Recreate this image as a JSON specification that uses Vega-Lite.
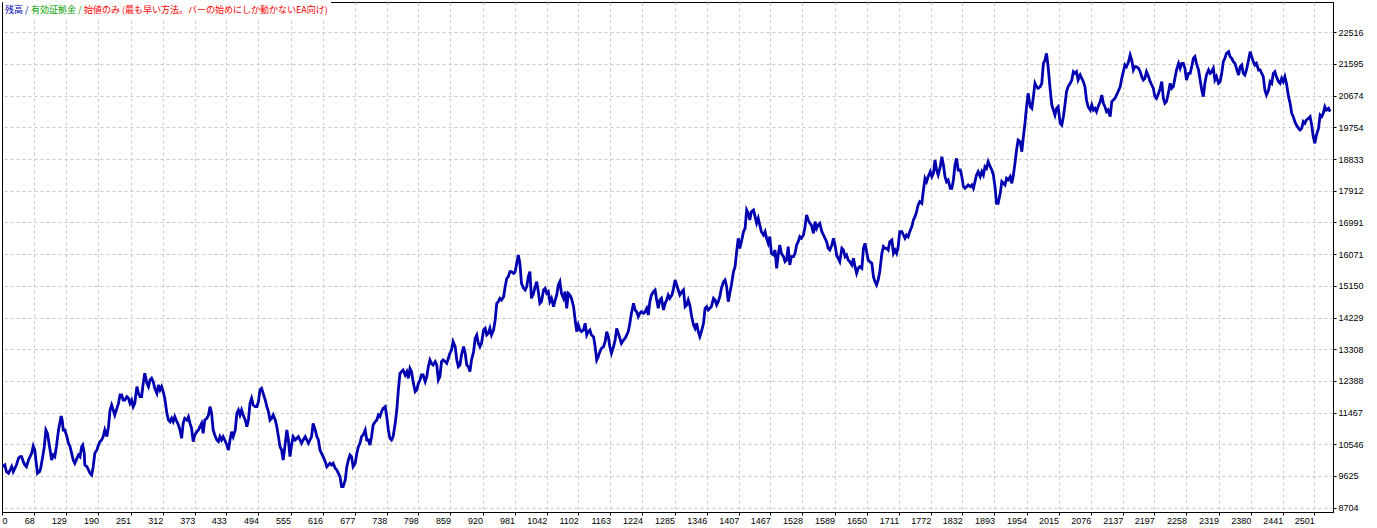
{
  "$schema": "https://vega.github.io/schema/vega-lite/v6.json",
  "width": 1331,
  "height": 510,
  "autosize": {"type": "none"},
  "padding": {"left": 2, "top": 2, "right": 44, "bottom": 16},
  "background": "#ffffff",
  "config": {
    "view": {"stroke": "#000000", "strokeWidth": 1},
    "axis": {
      "grid": true, "gridColor": "#c8c8c8", "gridDash": [3, 3], "gridWidth": 1,
      "domain": true, "domainColor": "#000000", "tickColor": "#000000", "tickSize": 3,
      "labelFont": "Liberation Sans", "labelFontSize": 9, "labelColor": "#000000",
      "labelOverlap": false, "labelFlush": false, "labelBound": false
    }
  },
  "data": {"values": [
{"t":8,"b":9896},{"t":12,"b":9945},{"t":15,"b":9751},{"t":19,"b":9703},{"t":22,"b":9799},{"t":25,"b":9896},{"t":28,"b":9751},{"t":31,"b":9848},{"t":34,"b":9945},{"t":38,"b":10139},{"t":41,"b":10187},{"t":44,"b":10187},{"t":47,"b":10042},{"t":50,"b":9945},{"t":53,"b":9896},{"t":57,"b":10090},{"t":60,"b":10187},{"t":63,"b":10284},{"t":66,"b":10497},{"t":69,"b":10380},{"t":71,"b":10090},{"t":74,"b":9703},{"t":78,"b":9751},{"t":80,"b":9848},{"t":84,"b":10187},{"t":87,"b":10477},{"t":90,"b":10962},{"t":93,"b":10865},{"t":95,"b":10671},{"t":98,"b":10380},{"t":101,"b":10090},{"t":104,"b":10235},{"t":107,"b":10187},{"t":110,"b":10477},{"t":114,"b":10962},{"t":117,"b":11203},{"t":119,"b":11368},{"t":121,"b":11252},{"t":123,"b":10962},{"t":126,"b":10962},{"t":130,"b":10768},{"t":133,"b":10574},{"t":136,"b":10477},{"t":139,"b":10284},{"t":142,"b":10090},{"t":145,"b":9993},{"t":149,"b":10138},{"t":152,"b":10235},{"t":155,"b":10187},{"t":158,"b":10477},{"t":160,"b":10526},{"t":163,"b":10284},{"t":164,"b":9945},{"t":168,"b":9896},{"t":171,"b":9799},{"t":174,"b":9703},{"t":177,"b":9654},{"t":180,"b":9896},{"t":183,"b":10284},{"t":187,"b":10380},{"t":190,"b":10526},{"t":193,"b":10623},{"t":196,"b":10671},{"t":199,"b":10768},{"t":202,"b":10962},{"t":206,"b":10768},{"t":209,"b":11058},{"t":212,"b":11542},{"t":215,"b":11688},{"t":218,"b":11542},{"t":221,"b":11397},{"t":225,"b":11591},{"t":228,"b":11736},{"t":231,"b":11978},{"t":234,"b":11978},{"t":237,"b":11833},{"t":240,"b":11833},{"t":244,"b":11930},{"t":247,"b":11881},{"t":250,"b":11736},{"t":253,"b":11833},{"t":256,"b":11639},{"t":259,"b":11736},{"t":263,"b":12220},{"t":266,"b":12027},{"t":269,"b":11930},{"t":272,"b":11930},{"t":275,"b":12317},{"t":278,"b":12608},{"t":282,"b":12317},{"t":285,"b":12220},{"t":288,"b":12414},{"t":291,"b":12463},{"t":294,"b":12366},{"t":297,"b":12172},{"t":301,"b":12027},{"t":304,"b":12269},{"t":307,"b":12124},{"t":310,"b":12220},{"t":313,"b":12075},{"t":316,"b":11881},{"t":320,"b":11446},{"t":323,"b":11252},{"t":326,"b":11203},{"t":329,"b":11300},{"t":332,"b":11203},{"t":335,"b":11349},{"t":339,"b":11203},{"t":342,"b":11107},{"t":345,"b":10962},{"t":348,"b":10719},{"t":351,"b":11155},{"t":354,"b":11300},{"t":358,"b":11252},{"t":361,"b":11349},{"t":364,"b":11155},{"t":367,"b":11010},{"t":370,"b":10623},{"t":373,"b":10816},{"t":377,"b":10913},{"t":380,"b":10962},{"t":383,"b":11058},{"t":386,"b":11155},{"t":389,"b":10865},{"t":392,"b":11252},{"t":396,"b":11300},{"t":399,"b":11397},{"t":402,"b":11639},{"t":405,"b":11446},{"t":408,"b":10962},{"t":411,"b":10816},{"t":415,"b":10671},{"t":418,"b":10623},{"t":421,"b":10768},{"t":424,"b":10671},{"t":427,"b":10768},{"t":430,"b":10671},{"t":434,"b":10526},{"t":437,"b":10380},{"t":440,"b":10671},{"t":443,"b":10913},{"t":446,"b":10768},{"t":450,"b":10962},{"t":453,"b":11446},{"t":456,"b":11542},{"t":459,"b":11397},{"t":462,"b":11542},{"t":465,"b":11397},{"t":469,"b":11252},{"t":472,"b":11058},{"t":475,"b":11252},{"t":478,"b":11736},{"t":481,"b":11881},{"t":484,"b":11688},{"t":488,"b":11639},{"t":491,"b":11639},{"t":494,"b":11785},{"t":497,"b":12124},{"t":500,"b":12172},{"t":503,"b":12027},{"t":507,"b":11833},{"t":510,"b":11639},{"t":513,"b":11494},{"t":516,"b":11252},{"t":519,"b":11300},{"t":522,"b":11397},{"t":526,"b":11252},{"t":529,"b":11058},{"t":532,"b":10768},{"t":535,"b":10477},{"t":538,"b":10380},{"t":541,"b":10090},{"t":545,"b":10574},{"t":548,"b":10962},{"t":551,"b":10671},{"t":554,"b":10187},{"t":557,"b":10526},{"t":560,"b":10768},{"t":564,"b":10671},{"t":567,"b":10719},{"t":570,"b":10768},{"t":573,"b":10671},{"t":576,"b":10574},{"t":579,"b":10671},{"t":583,"b":10768},{"t":586,"b":10671},{"t":589,"b":10574},{"t":592,"b":10671},{"t":595,"b":10768},{"t":598,"b":11155},{"t":602,"b":10962},{"t":605,"b":10768},{"t":608,"b":10671},{"t":611,"b":10380},{"t":614,"b":10284},{"t":617,"b":10187},{"t":621,"b":10042},{"t":624,"b":9896},{"t":627,"b":9945},{"t":630,"b":9993},{"t":633,"b":9945},{"t":636,"b":9993},{"t":640,"b":9848},{"t":643,"b":9799},{"t":646,"b":9703},{"t":649,"b":9606},{"t":652,"b":9315},{"t":655,"b":9315},{"t":659,"b":9509},{"t":662,"b":9896},{"t":665,"b":10090},{"t":668,"b":10235},{"t":671,"b":10187},{"t":674,"b":9896},{"t":678,"b":9993},{"t":681,"b":10284},{"t":684,"b":10477},{"t":687,"b":10574},{"t":690,"b":10768},{"t":693,"b":10816},{"t":697,"b":10962},{"t":700,"b":10671},{"t":703,"b":10671},{"t":706,"b":10526},{"t":709,"b":10768},{"t":712,"b":11107},{"t":716,"b":11203},{"t":719,"b":11252},{"t":722,"b":11397},{"t":725,"b":11349},{"t":728,"b":11494},{"t":731,"b":11591},{"t":735,"b":11639},{"t":738,"b":11349},{"t":741,"b":10962},{"t":744,"b":10719},{"t":747,"b":10671},{"t":750,"b":10768},{"t":754,"b":11155},{"t":757,"b":11542},{"t":760,"b":12124},{"t":763,"b":12608},{"t":766,"b":12656},{"t":769,"b":12705},{"t":773,"b":12559},{"t":776,"b":12656},{"t":779,"b":12462},{"t":782,"b":12753},{"t":785,"b":12656},{"t":788,"b":12366},{"t":792,"b":12075},{"t":795,"b":12124},{"t":798,"b":12317},{"t":801,"b":12414},{"t":804,"b":12559},{"t":807,"b":12559},{"t":811,"b":12366},{"t":814,"b":12511},{"t":817,"b":12801},{"t":820,"b":12995},{"t":823,"b":12898},{"t":826,"b":12850},{"t":830,"b":12947},{"t":833,"b":12850},{"t":836,"b":12414},{"t":839,"b":12511},{"t":842,"b":12947},{"t":845,"b":12995},{"t":849,"b":12947},{"t":852,"b":12898},{"t":855,"b":13043},{"t":858,"b":13189},{"t":861,"b":13286},{"t":864,"b":13528},{"t":868,"b":13382},{"t":871,"b":12995},{"t":874,"b":12801},
{"t":877,"b":12850},{"t":880,"b":13141},{"t":884,"b":13383},{"t":887,"b":13189},{"t":890,"b":12850},{"t":893,"b":12802},{"t":896,"b":12656},{"t":899,"b":12995},{"t":903,"b":13237},{"t":906,"b":13625},{"t":909,"b":13722},{"t":912,"b":13479},{"t":915,"b":13383},{"t":918,"b":13479},{"t":922,"b":13869},{"t":925,"b":13915},{"t":928,"b":13722},{"t":931,"b":13770},{"t":934,"b":13915},{"t":937,"b":13722},{"t":941,"b":13869},{"t":944,"b":14157},{"t":947,"b":14642},{"t":950,"b":14690},{"t":953,"b":14784},{"t":956,"b":14738},{"t":960,"b":14835},{"t":963,"b":15126},{"t":966,"b":15368},{"t":969,"b":15416},{"t":972,"b":15562},{"t":975,"b":15562},{"t":979,"b":15513},{"t":982,"b":15562},{"t":985,"b":15804},{"t":988,"b":16046},{"t":991,"b":15804},{"t":994,"b":15223},{"t":998,"b":15077},{"t":1001,"b":15029},{"t":1004,"b":15126},{"t":1007,"b":15416},{"t":1010,"b":15562},{"t":1013,"b":14787},{"t":1017,"b":14932},{"t":1020,"b":15126},{"t":1023,"b":15271},{"t":1026,"b":14981},{"t":1029,"b":14642},{"t":1032,"b":14690},{"t":1036,"b":15029},{"t":1039,"b":15077},{"t":1042,"b":14932},{"t":1045,"b":14980},{"t":1048,"b":14690},{"t":1051,"b":14787},{"t":1055,"b":14545},{"t":1058,"b":14738},{"t":1061,"b":14884},{"t":1064,"b":15174},{"t":1067,"b":15271},{"t":1070,"b":14932},{"t":1074,"b":14787},{"t":1077,"b":14980},{"t":1080,"b":14496},{"t":1083,"b":14932},{"t":1086,"b":14884},{"t":1089,"b":14787},{"t":1093,"b":14545},{"t":1096,"b":14157},{"t":1099,"b":13818},{"t":1102,"b":14012},{"t":1105,"b":13869},{"t":1108,"b":13818},{"t":1112,"b":13869},{"t":1115,"b":14061},{"t":1118,"b":13722},{"t":1121,"b":13818},{"t":1124,"b":13869},{"t":1127,"b":13722},{"t":1131,"b":13673},{"t":1134,"b":13383},{"t":1137,"b":12995},{"t":1140,"b":13092},{"t":1143,"b":13237},{"t":1146,"b":13334},{"t":1150,"b":13383},{"t":1153,"b":13528},{"t":1156,"b":13818},{"t":1159,"b":13673},{"t":1162,"b":13383},{"t":1165,"b":13189},{"t":1169,"b":13383},{"t":1172,"b":13576},{"t":1175,"b":13915},{"t":1178,"b":13770},{"t":1181,"b":13625},{"t":1184,"b":13479},{"t":1188,"b":13576},{"t":1191,"b":13625},{"t":1194,"b":13722},{"t":1197,"b":13818},{"t":1200,"b":14061},{"t":1203,"b":14351},{"t":1207,"b":14642},{"t":1210,"b":14448},{"t":1213,"b":14399},{"t":1216,"b":14254},{"t":1219,"b":14351},{"t":1222,"b":14399},{"t":1226,"b":14351},{"t":1229,"b":14399},{"t":1232,"b":14496},{"t":1235,"b":14303},{"t":1238,"b":14690},{"t":1241,"b":14884},{"t":1245,"b":14980},{"t":1248,"b":15029},{"t":1251,"b":14738},{"t":1254,"b":14496},{"t":1257,"b":14738},{"t":1260,"b":14787},{"t":1264,"b":14448},{"t":1267,"b":14642},{"t":1270,"b":14738},{"t":1273,"b":14884},{"t":1276,"b":14787},{"t":1280,"b":14884},{"t":1283,"b":15077},{"t":1286,"b":15319},{"t":1289,"b":15174},{"t":1292,"b":15029},{"t":1295,"b":14884},{"t":1299,"b":14980},{"t":1302,"b":15029},{"t":1305,"b":14545},{"t":1308,"b":14593},{"t":1311,"b":14738},
{"t":1314,"b":14593},{"t":1317,"b":14303},{"t":1321,"b":14012},{"t":1324,"b":13915},{"t":1327,"b":14061},{"t":1330,"b":13819},{"t":1333,"b":13673},{"t":1336,"b":13819},{"t":1340,"b":14061},{"t":1343,"b":14496},{"t":1346,"b":14545},{"t":1349,"b":14448},{"t":1352,"b":14496},{"t":1355,"b":14545},{"t":1359,"b":14787},{"t":1362,"b":14738},{"t":1365,"b":14593},{"t":1368,"b":14690},{"t":1371,"b":14835},{"t":1374,"b":15077},{"t":1378,"b":15271},{"t":1381,"b":15320},{"t":1384,"b":15126},{"t":1387,"b":14690},{"t":1390,"b":14932},{"t":1393,"b":15174},{"t":1397,"b":15562},{"t":1400,"b":15707},{"t":1403,"b":16143},{"t":1406,"b":16530},{"t":1409,"b":16240},{"t":1412,"b":16433},{"t":1416,"b":16724},{"t":1419,"b":16821},{"t":1422,"b":17353},{"t":1425,"b":17256},{"t":1428,"b":17063},{"t":1431,"b":17305},{"t":1435,"b":17353},{"t":1438,"b":17159},{"t":1441,"b":16966},{"t":1444,"b":17111},{"t":1447,"b":16917},{"t":1450,"b":16724},{"t":1454,"b":16627},{"t":1457,"b":16724},{"t":1460,"b":16530},{"t":1463,"b":16385},{"t":1466,"b":16578},{"t":1469,"b":16094},{"t":1473,"b":16046},{"t":1476,"b":16191},{"t":1479,"b":15658},{"t":1482,"b":16046},{"t":1485,"b":16336},{"t":1488,"b":16094},{"t":1492,"b":15998},{"t":1495,"b":15852},{"t":1498,"b":15901},{"t":1501,"b":16288},{"t":1504,"b":15755},{"t":1507,"b":15998},{"t":1511,"b":15998},{"t":1514,"b":16094},{"t":1517,"b":16336},{"t":1520,"b":16433},{"t":1523,"b":16578},{"t":1526,"b":16530},{"t":1530,"b":16627},{"t":1533,"b":16869},{"t":1536,"b":17208},{"t":1539,"b":17063},{"t":1542,"b":16966},{"t":1545,"b":16917},{"t":1549,"b":16675},{"t":1552,"b":17014},{"t":1555,"b":16821},{"t":1558,"b":16917},{"t":1561,"b":16966},{"t":1565,"b":16724},{"t":1568,"b":16627},{"t":1571,"b":16530},{"t":1574,"b":16433},{"t":1577,"b":16240},{"t":1580,"b":16191},{"t":1584,"b":16336},{"t":1587,"b":16530},{"t":1590,"b":16336},{"t":1593,"b":16046},{"t":1596,"b":15949},{"t":1599,"b":15852},{"t":1603,"b":16240},{"t":1606,"b":16191},{"t":1609,"b":15998},{"t":1612,"b":16046},{"t":1615,"b":15901},{"t":1618,"b":15852},{"t":1622,"b":15755},{"t":1625,"b":15949},{"t":1628,"b":15707},{"t":1631,"b":15513},{"t":1634,"b":15658},{"t":1637,"b":15707},{"t":1641,"b":15658},{"t":1644,"b":16240},{"t":1647,"b":16385},{"t":1650,"b":16143},{"t":1653,"b":15901},{"t":1656,"b":15852},{"t":1660,"b":15804},{"t":1663,"b":15417},{"t":1666,"b":15271},{"t":1669,"b":15174},{"t":1672,"b":15319},{"t":1675,"b":15562},{"t":1679,"b":16094},{"t":1682,"b":16288},{"t":1685,"b":16240},{"t":1688,"b":16240},{"t":1691,"b":16191},{"t":1694,"b":16433},{"t":1698,"b":16481},{"t":1701,"b":16094},{"t":1704,"b":16191},{"t":1707,"b":16094},{"t":1710,"b":16288},{"t":1713,"b":16724},{"t":1717,"b":16724},{"t":1720,"b":16627},{"t":1723,"b":16530},{"t":1726,"b":16627},{"t":1729,"b":16578},{"t":1732,"b":16724},{"t":1736,"b":16869},{"t":1739,"b":17063},{"t":1742,"b":17159},{"t":1745,"b":17305},{"t":1748,"b":17498},
{"t":1751,"b":17595},{"t":1755,"b":17547},{"t":1758,"b":17934},{"t":1761,"b":18273},{"t":1764,"b":18176},{"t":1767,"b":18322},{"t":1771,"b":18467},{"t":1774,"b":18322},{"t":1777,"b":18418},{"t":1780,"b":18806},{"t":1783,"b":18515},{"t":1786,"b":18370},{"t":1790,"b":18612},{"t":1793,"b":18903},{"t":1796,"b":18661},{"t":1799,"b":18322},{"t":1802,"b":18176},{"t":1805,"b":18225},{"t":1809,"b":17983},{"t":1812,"b":17983},{"t":1815,"b":18225},{"t":1818,"b":18661},{"t":1821,"b":18854},{"t":1824,"b":18515},{"t":1828,"b":18515},{"t":1831,"b":18322},{"t":1834,"b":18031},{"t":1837,"b":17983},{"t":1840,"b":18031},{"t":1843,"b":18080},{"t":1847,"b":18031},{"t":1850,"b":18080},{"t":1853,"b":17983},{"t":1856,"b":18176},{"t":1859,"b":18370},{"t":1862,"b":18467},{"t":1866,"b":18322},{"t":1869,"b":18467},{"t":1872,"b":18370},{"t":1875,"b":18612},{"t":1878,"b":18564},{"t":1881,"b":18757},{"t":1885,"b":18612},{"t":1888,"b":18515},{"t":1891,"b":18370},{"t":1894,"b":18031},{"t":1897,"b":17547},{"t":1900,"b":17547},{"t":1904,"b":17837},{"t":1907,"b":18176},{"t":1910,"b":18128},{"t":1913,"b":18080},{"t":1916,"b":18273},{"t":1919,"b":18225},{"t":1923,"b":18322},{"t":1926,"b":18128},{"t":1929,"b":18370},{"t":1932,"b":18709},{"t":1935,"b":19096},{"t":1938,"b":19387},{"t":1942,"b":19338},{"t":1945,"b":19048},{"t":1948,"b":19484},{"t":1951,"b":19871},{"t":1954,"b":20355},{"t":1957,"b":20743},{"t":1961,"b":20355},{"t":1964,"b":20307},{"t":1967,"b":20646},{"t":1970,"b":21033},{"t":1973,"b":20936},{"t":1976,"b":20888},{"t":1980,"b":20936},{"t":1983,"b":21033},{"t":1986,"b":21614},{"t":1989,"b":21711},{"t":1992,"b":21905},{"t":1995,"b":21517},{"t":1999,"b":20840},{"t":2002,"b":20404},{"t":2005,"b":20259},{"t":2008,"b":20113},{"t":2011,"b":20307},{"t":2014,"b":20355},{"t":2018,"b":19871},{"t":2021,"b":19823},{"t":2024,"b":20065},{"t":2027,"b":20404},{"t":2030,"b":20791},{"t":2033,"b":20936},{"t":2037,"b":21033},{"t":2040,"b":21130},{"t":2043,"b":21372},{"t":2046,"b":21324},{"t":2049,"b":21372},{"t":2052,"b":21130},{"t":2056,"b":21275},{"t":2059,"b":21178},{"t":2062,"b":21082},{"t":2065,"b":20936},{"t":2068,"b":20549},{"t":2071,"b":20355},{"t":2075,"b":20259},{"t":2078,"b":20404},{"t":2081,"b":20259},{"t":2084,"b":20307},{"t":2087,"b":20210},{"t":2090,"b":20355},{"t":2094,"b":20501},{"t":2097,"b":20694},{"t":2100,"b":20452},{"t":2103,"b":20355},{"t":2106,"b":20210},{"t":2109,"b":20259},{"t":2113,"b":20065},{"t":2116,"b":20501},{"t":2119,"b":20549},{"t":2122,"b":20597},{"t":2125,"b":20694},{"t":2128,"b":20791},{"t":2132,"b":20936},{"t":2135,"b":21178},{"t":2138,"b":21372},{"t":2141,"b":21566},{"t":2144,"b":21517},{"t":2148,"b":21663},{"t":2151,"b":21856},{"t":2154,"b":21711},{"t":2157,"b":21420},{"t":2160,"b":21517},{"t":2163,"b":21517},{"t":2167,"b":21469},
{"t":2170,"b":21372},{"t":2173,"b":21227},{"t":2176,"b":21130},{"t":2179,"b":21178},{"t":2182,"b":21372},{"t":2186,"b":21227},{"t":2189,"b":21082},{"t":2192,"b":20985},{"t":2195,"b":20888},{"t":2198,"b":20646},{"t":2201,"b":20597},{"t":2205,"b":20743},{"t":2208,"b":20888},{"t":2211,"b":21082},{"t":2214,"b":20597},{"t":2217,"b":20452},{"t":2220,"b":20501},{"t":2224,"b":20791},{"t":2227,"b":21033},{"t":2230,"b":20888},{"t":2233,"b":20936},{"t":2236,"b":21178},{"t":2239,"b":21420},{"t":2243,"b":21614},{"t":2246,"b":21469},{"t":2249,"b":21614},{"t":2252,"b":21614},{"t":2255,"b":21469},{"t":2258,"b":21130},{"t":2262,"b":21324},{"t":2265,"b":21324},{"t":2268,"b":21517},{"t":2271,"b":21760},{"t":2274,"b":21808},{"t":2277,"b":21614},{"t":2281,"b":21420},{"t":2284,"b":21130},{"t":2287,"b":20839},{"t":2290,"b":20646},{"t":2293,"b":21033},{"t":2296,"b":21275},{"t":2300,"b":21420},{"t":2303,"b":21324},{"t":2306,"b":21372},{"t":2309,"b":21469},{"t":2312,"b":21130},{"t":2315,"b":21227},{"t":2319,"b":21033},{"t":2322,"b":21082},{"t":2325,"b":21324},{"t":2328,"b":21663},{"t":2331,"b":21760},{"t":2334,"b":21905},{"t":2338,"b":21953},{"t":2341,"b":21808},{"t":2344,"b":21760},{"t":2347,"b":21663},{"t":2350,"b":21614},{"t":2353,"b":21469},{"t":2357,"b":21275},{"t":2360,"b":21517},{"t":2363,"b":21566},{"t":2366,"b":21324},{"t":2369,"b":21275},{"t":2372,"b":21420},{"t":2376,"b":21711},{"t":2379,"b":21953},{"t":2382,"b":21808},{"t":2385,"b":21663},{"t":2388,"b":21566},{"t":2391,"b":21614},{"t":2395,"b":21420},{"t":2398,"b":21420},{"t":2401,"b":21324},{"t":2404,"b":21227},{"t":2407,"b":20839},{"t":2410,"b":20694},{"t":2414,"b":20839},{"t":2417,"b":21082},{"t":2420,"b":21033},{"t":2423,"b":21324},{"t":2426,"b":21372},{"t":2429,"b":21227},{"t":2433,"b":21082},{"t":2436,"b":21033},{"t":2439,"b":21178},{"t":2442,"b":21082},{"t":2445,"b":21227},{"t":2448,"b":21033},{"t":2452,"b":20646},{"t":2455,"b":20452},{"t":2458,"b":20162},{"t":2461,"b":20065},{"t":2464,"b":19920},{"t":2467,"b":19823},{"t":2471,"b":19726},{"t":2474,"b":19677},{"t":2477,"b":19726},{"t":2480,"b":19920},{"t":2483,"b":19871},{"t":2486,"b":19968},{"t":2490,"b":20016},{"t":2493,"b":20065},{"t":2496,"b":19823},{"t":2499,"b":19484},{"t":2502,"b":19290},{"t":2505,"b":19532},{"t":2509,"b":19726},{"t":2512,"b":20113},{"t":2515,"b":20065},{"t":2518,"b":20162},{"t":2521,"b":20355},{"t":2524,"b":20258},{"t":2528,"b":20307},{"t":2531,"b":20210}
  ]},
  "mark": {"type": "line", "strokeWidth": 2.8, "strokeJoin": "miter"},
  "encoding": {
    "x": {
      "field": "t", "type": "quantitative",
      "scale": {"domain": [6.61, 2536.5], "nice": false, "zero": false},
      "axis": {
        "orient": "bottom", "title": null,
        "values": [6.61, 68, 129, 190, 251, 312, 373, 433, 494, 555, 616, 677, 738, 798, 859, 920, 981, 1042, 1102, 1163, 1224, 1285, 1346, 1407, 1467, 1528, 1589, 1650, 1711, 1772, 1832, 1893, 1954, 2015, 2076, 2137, 2197, 2258, 2319, 2380, 2441, 2501],
        "labelExpr": "datum.value < 10 ? '0' : format(datum.value, 'd')",
        "labelAlign": {"condition": {"test": "datum.value < 10", "value": "left"}, "value": "right"},
        "gridColor": {"condition": {"test": "datum.value < 10", "value": "#000000"}, "value": "#c8c8c8"},
        "gridDash": {"condition": {"test": "datum.value < 10", "value": []}, "value": [3, 3]},
        "labelBaseline": "top", "labelPadding": 1
      }
    },
    "y": {
      "field": "b", "type": "quantitative",
      "scale": {"domain": [8579, 23396], "nice": false, "zero": false},
      "axis": {
        "orient": "right", "title": null,
        "values": [8704, 9625, 10546, 11467, 12388, 13308, 14229, 15150, 16071, 16991, 17912, 18833, 19754, 20674, 21595, 22516],
        "format": "d", "labelAlign": "left", "labelBaseline": "middle", "labelPadding": 2
      }
    },
    "color": {
      "datum": "残高", "type": "nominal",
      "scale": {"domain": ["残高", "有効証拠金", "始値のみ (最も早い方法。バーの始めにしか動かないEA向け)"], "range": ["#0000b0", "#00a000", "#ff0000"]},
      "legend": {
        "title": null, "orient": "none", "legendX": 1, "legendY": 0,
        "direction": "horizontal", "columns": 3, "fillColor": "#ffffff", "padding": 3,
        "symbolType": "circle", "symbolSize": 0.01, "symbolOpacity": 0, "symbolStrokeWidth": 0, "labelOffset": -10,
        "columnPadding": 2, "labelFont": "Noto Sans CJK JP", "labelFontSize": 9, "labelLimit": 600,
        "labelExpr": "datum.label == '残高' ? '残高 /' : datum.label == '有効証拠金' ? '有効証拠金 /' : datum.label",
        "encode": {"labels": {"update": {"fill": {"scale": "color", "field": "value"}}}}
      }
    }
  }
}
